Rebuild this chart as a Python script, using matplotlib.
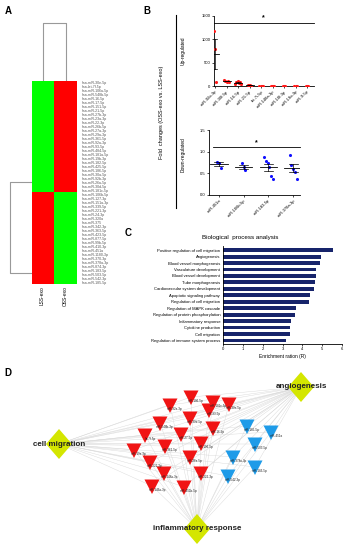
import numpy as np
import matplotlib
matplotlib.use("Agg")
import matplotlib.pyplot as plt
from matplotlib.colors import ListedColormap
from matplotlib.patches import Polygon

plt.rcParams['font.family'] = ['Liberation Sans', 'DejaVu Sans']

W, H = 348, 550

# ---------------- data ----------------
heat_up_rows = ["hsa-miR-30e-5p", "hsa-let-7f-5p", "hsa-miR-106a-5p", "hsa-miR-548b-5p", "hsa-miR-16-5p",
                "hsa-miR-17-5p", "hsa-miR-151-5p", "hsa-miR-21-5p", "hsa-miR-27b-3p", "hsa-miR-23a-3p",
                "hsa-miR-22-3p", "hsa-miR-26b-5p", "hsa-miR-27a-3p", "hsa-miR-29a-3p", "hsa-miR-361-5p",
                "hsa-miR-92a-3p", "hsa-miR-93-5p", "hsa-miR-484-5p", "hsa-miR-181a-5p", "hsa-miR-19b-3p",
                "hsa-miR-182-5p", "hsa-miR-425-5p", "hsa-miR-186-5p", "hsa-miR-30a-5p", "hsa-miR-92b-3p",
                "hsa-miR-26a-5p", "hsa-miR-30d-5p", "hsa-miR-181c-5p"]
heat_down_rows = ["hsa-miR-106b-5p", "hsa-miR-127-3p", "hsa-miR-151a-3p", "hsa-miR-339-5p", "hsa-miR-221-3p",
                  "hsa-miR-24-3p", "hsa-miR-320a", "hsa-miR-375", "hsa-miR-342-3p", "hsa-miR-363-5p",
                  "hsa-miR-423-5p", "hsa-miR-877-5p", "hsa-miR-99b-5p", "hsa-miR-410-3p", "hsa-miR-451a",
                  "hsa-miR-1180-3p", "hsa-miR-370-3p", "hsa-miR-378a-3p", "hsa-miR-874-3p", "hsa-miR-183-5p",
                  "hsa-miR-503-5p", "hsa-miR-542-3p", "hsa-miR-185-5p"]
heat_cols = ["LSS-exo", "OSS-exo"]
heat_up_pattern = [0, 1]     # LSS low, OSS high
heat_down_pattern = [1, 0]   # LSS high, OSS low

up_labels = ["miR-92a-3p", "miR-30f-5p", "miR-16-5p", "miR-21-5p", "let-7i-5p",
             "miR-148a-3p", "miR-10f-3p", "miR-19a-3p", "miR-9-5p"]
up_vals = [[1170, 800, 80], [130, 100, 90, 110, 95], [50, 80, 100, 60, 75, 40],
           [25, 15, 20, 10], [8, 5, 10, 6], [5, 4, 6, 3], [4, 3, 5], [3, 2, 4], [2, 3, 1]]

down_labels = ["miR-451a", "miR-106b-5p", "miR-183-5p", "miR-378a-3p"]
down_vals = [[0.77, 0.75, 0.62], [0.74, 0.64, 0.57],
             [0.88, 0.78, 0.73, 0.65, 0.44, 0.37], [0.93, 0.70, 0.60, 0.52, 0.38]]

go_terms = ["Positive regulation of cell migration", "Angiogenesis", "Blood vessel morphogenesis",
            "Vasculature development", "Blood vessel development", "Tube morphogenesis",
            "Cardiovascular system development", "Apoptotic signaling pathway",
            "Regulation of cell migration", "Regulation of MAPK cascade",
            "Regulation of protein phosphorylation", "Inflammatory response",
            "Cytokine production", "Cell migration", "Regulation of immune system process"]
go_ratio = [5.54, 4.95, 4.90, 4.68, 4.68, 4.63, 4.60, 4.38, 4.33, 3.67, 3.64, 3.43, 3.40, 3.38, 3.18]

hub_names = ["angiogenesis", "cell migration", "inflammatory response"]
hub_xy = [(301, 387), (59, 444), (197, 529)]
net_up_names = ["miR-186-5p", "miR-181c-5p", "miR-30e-5p", "miR-92a-3p", "miR-93-5p", "miR-30d-5p",
                "miR-548b-3p", "miR-16-5p", "let-7f-5p", "miR-27-5p", "miR-106-5p", "miR-19a-3p",
                "miR-361-5p", "miR-221-3p", "miR-26a-5p", "miR-148a-3p", "miR-222-3p", "miR-146a-3p",
                "miR-451b-5p"]
net_up_xy = [(191, 397), (213, 402), (229, 404), (170, 405), (209, 410), (190, 418), (160, 423),
             (213, 428), (145, 435), (181, 434), (201, 443), (134, 450), (165, 446), (150, 462),
             (190, 457), (164, 473), (201, 473), (152, 486), (184, 487)]
net_down_names = ["miR-185-5p", "miR-451a", "miR-503-5p", "miR-378a-3p", "miR-183-5p", "miR-542-3p"]
net_down_xy = [(247, 426), (271, 432), (255, 444), (233, 457), (255, 467), (228, 476)]

# ---------------- figure ----------------
fig = plt.figure(figsize=(W / 100, H / 100), dpi=100)


def add_ax(x0, y0, x1, y1, **kw):
    return fig.add_axes([x0 / W, 1 - y1 / H, (x1 - x0) / W, (y1 - y0) / H], **kw)


ov = add_ax(0, 0, W, H)
ov.set_xlim(0, W)
ov.set_ylim(H, 0)
ov.axis('off')
ov.patch.set_alpha(0)

TF = 3.0
for lt, (x, y) in zip("ABCD", [(8, 11), (147, 11), (128, 233), (8, 373)]):
    ov.text(x, y, lt, fontsize=7, fontweight='bold', ha='center', va='center')

# ---- Panel A: heatmap ----
mat = np.array([heat_up_pattern] * len(heat_up_rows) + [heat_down_pattern] * len(heat_down_rows))
axh = add_ax(31.7, 81, 76, 284)
axh.imshow(mat, cmap=ListedColormap(['#00ff00', '#ff0000']), aspect='auto', interpolation='nearest')
rows = heat_up_rows + heat_down_rows
axh.yaxis.tick_right()
axh.set_yticks(range(len(rows)))
axh.set_yticklabels(rows, fontsize=2.5, color='#555555')
axh.tick_params(axis='y', length=0, pad=4)
axh.set_xticks([])
for s in axh.spines.values():
    s.set_visible(False)
for i, c in enumerate(heat_cols):
    ov.text(42 + i * 23, 286, c, rotation=90, fontsize=3.5, ha='center', va='top')
# dendrograms
dc = '#999999'
ov.plot([43, 43, 66, 66], [80, 23, 23, 80], color=dc, lw=0.8)
ov.plot([31, 10, 10, 31], [182, 182, 273, 273], color=dc, lw=0.8)

# ---- Panel B ----
ov.plot([176, 176], [15, 208], color='black', lw=0.8)
ov.text(162, 112, "Fold  changes (OSS-exo vs. LSS-exo)", rotation=90, fontsize=4,
        ha='center', va='center')
ov.text(183, 51, "Up-regulated", rotation=90, fontsize=3.5, ha='center', va='center')
ov.text(183, 155, "Down-regulated", rotation=90, fontsize=3.5, ha='center', va='center')


def dotplot(ax, vals, color, spread):
    for i, v in enumerate(vals):
        v = np.array(v, float)
        n = len(v)
        offs = (np.arange(n) - (n - 1) / 2) * spread
        ax.scatter(i + offs, v, s=5, color=color, zorder=3, linewidths=0)
        m = v.mean()
        sem = v.std(ddof=1) / np.sqrt(n)
        ax.plot([i - 0.35, i + 0.35], [m, m], color='black', lw=0.6, zorder=4)
        ax.plot([i, i], [m - sem, m + sem], color='black', lw=0.5, zorder=4)
        ax.plot([i - 0.18, i + 0.18], [m + sem, m + sem], color='black', lw=0.5, zorder=4)
        ax.plot([i - 0.18, i + 0.18], [m - sem, m - sem], color='black', lw=0.5, zorder=4)


def style(ax):
    for s in ['top', 'right']:
        ax.spines[s].set_visible(False)
    for s in ['left', 'bottom']:
        ax.spines[s].set_linewidth(0.6)
    ax.tick_params(labelsize=TF, length=1.5, width=0.5, pad=1)


axu = add_ax(213.7, 15.7, 314, 86)
dotplot(axu, up_vals, '#ff1a1a', 0.1)
axu.set_xlim(-0.12, len(up_vals) - 1 + 0.6)
axu.set_ylim(0, 1500)
axu.set_yticks([0, 500, 1000, 1500])
axu.set_xticks(range(len(up_labels)))
axu.set_xticklabels(up_labels, rotation=45, ha='right', rotation_mode='anchor')
style(axu)
axu.plot([-0.1, len(up_vals) - 1 + 0.6], [1340, 1340], color='black', lw=0.6, clip_on=False)
axu.text((len(up_vals) - 1) / 2 + 0.2, 1380, "*", fontsize=5, ha='center', va='bottom',
         fontweight='bold')

axd = add_ax(209.3, 130, 300, 195)
dotplot(axd, down_vals, '#1010ff', 0.07)
axd.set_xlim(-0.39, 3.28)
axd.set_ylim(0, 1.5)
axd.set_yticks([0, 0.5, 1.0, 1.5])
axd.set_yticklabels(["0.0", "0.5", "1.0", "1.5"])
axd.set_xticks(range(len(down_labels)))
axd.set_xticklabels(down_labels, rotation=45, ha='right', rotation_mode='anchor')
style(axd)
axd.plot([-0.25, 3.28], [1.1, 1.1], color='black', lw=0.6, clip_on=False)
axd.text(1.5, 1.13, "*", fontsize=5, ha='center', va='bottom', fontweight='bold')

# ---- Panel C ----
axc = add_ax(223, 246, 342, 344)
yy = np.arange(len(go_terms))
axc.barh(yy, go_ratio, height=0.6, color='#17246b')
axc.set_ylim(len(go_terms) - 0.45, -0.65)
axc.set_xlim(0, 6)
axc.set_xticks(range(7))
axc.set_yticks(yy)
axc.set_yticklabels(go_terms, fontsize=3.0)
style(axc)
axc.tick_params(axis='y', length=0, pad=2)
axc.set_xlabel("Enrichment ration (R)", fontsize=3.5, labelpad=2)
ov.text(240, 237, "Biological  process analysis", fontsize=4.5, ha='center', va='center')

# ---- Panel D: network ----
all_xy = net_up_xy + net_down_xy
for hx, hy in hub_xy:
    for tx, ty in all_xy:
        ov.plot([hx, tx], [hy, ty], color='#d8d8d8', lw=0.3, zorder=1)


def tri(x, y, color):
    ov.add_patch(Polygon([(x - 7.5, y - 6.5), (x + 7.5, y - 6.5), (x, y + 8)],
                         closed=True, facecolor=color, edgecolor='none', zorder=2))


for (x, y), n in zip(net_up_xy, net_up_names):
    tri(x, y, '#f01414')
for (x, y), n in zip(net_down_xy, net_down_names):
    tri(x, y, '#1e9be8')
for (x, y), n in zip(net_up_xy + net_down_xy, net_up_names + net_down_names):
    ov.text(x + 5, y + 4, n, fontsize=2.2, ha='center', va='center', color='#222222', zorder=3)

for (x, y), n in zip(hub_xy, hub_names):
    ov.add_patch(Polygon([(x, y - 15), (x + 13, y), (x, y + 15), (x - 13, y)],
                         closed=True, facecolor='#d4e600', edgecolor='none', zorder=4))
    ov.text(x, y, n, fontsize=5.8, fontweight='bold', ha='center', va='center',
            color='#222222', zorder=5)

fig.savefig("out.png", dpi=100)
